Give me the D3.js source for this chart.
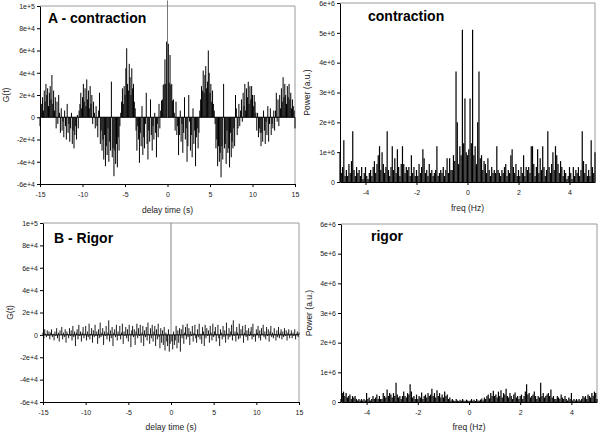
<!DOCTYPE html>
<html>
<head>
<meta charset="utf-8">
<script src="https://cdn.jsdelivr.net/npm/d3@7"></script>
<style>
  body { margin: 0; background: #fff; }
  text { font-family: Arial, "Liberation Sans", sans-serif; }
</style>
</head>
<body>
<div id="chart"></div>
<script>
// sampling grids
const lagStart = -15, lagStep = 0.1;     // seconds
const freqStart = -5, freqStep = 0.05;   // Hz

// A - contraction, G(t) in units of 1e3, t = -15 .. 15
const gContraction = [
  -8,4,12,18,6,24,14,30,20,26,10,22,28,16,38,12,24,6,18,-10,14,-6,20,4,-14,
  8,-12,-4,-18,6,-8,-20,12,-14,-6,-22,-10,4,-24,-12,-28,-16,-8,-20,2,-10,
  6,12,22,8,18,30,14,26,10,34,16,24,8,28,12,20,-6,14,4,-10,10,
  -8,-18,6,22,-24,-12,-30,-20,-38,-16,-44,-26,-34,-10,-40,-22,-30,32,-36,-28,-53,-30,-42,-24,-45,-18,-30,-8,
  4,14,26,12,28,20,44,62,30,24,48,36,20,44,26,30,14,8,
  -12,-30,-8,-20,-41,-14,-26,10,-34,-18,-28,-6,22,-24,-38,-12,-22,16,-16,-30,-8,-20,4,-14,-36,-6,-18,12,-10,6,
  15,16,29,30,52,30,68,
  105,
  66,31,56,29,30,15,16,
  4,-12,14,-16,-8,-34,-16,6,-22,-6,-32,-14,18,-20,-10,-40,-26,20,-4,-30,-16,-36,8,-24,-12,-44,-18,-10,-28,-14,
  6,16,28,24,42,22,38,46,26,32,60,40,22,30,14,24,12,6,
  -6,-28,-20,-44,-26,-40,-32,-54,-26,-38,30,-28,-24,-42,-12,-32,-28,-45,-14,-36,-22,-28,-10,-26,20,8,-16,-10,
  12,-8,6,16,-4,22,10,30,6,26,18,32,12,28,16,28,20,10,20,14,4,
  -12,4,-18,-10,-14,-26,-14,-22,6,-12,-24,-4,-16,10,-22,-6,8,-16,-6,-10,6,
  -12,6,22,-4,16,-8,20,8,26,14,36,18,30,20,12,28,18,30,16,22,8,16,10,6,-10
];

// B - rigor, G(t) in units of 1e3, t = -15 .. 15
const gRigor = [
  2,-3,5,1,-2,4,-1,3,-4,2,
  5,-2,1,-5,3,-1,6,-3,2,-6,
  4,0,7,-4,2,-2,5,-7,3,1,
  -3,6,-1,4,-5,8,-2,3,-10,2,
  5,-4,9,-1,3,-6,2,7,-3,1,
  8,-5,3,-2,10,-4,1,6,-7,4,
  -2,9,-1,3,-8,5,-3,11,-2,2,
  6,-9,3,-1,8,-4,2,13,-6,4,
  -3,7,-10,2,5,-2,9,-5,3,-1,
  8,-4,2,10,-8,3,-1,7,-3,5,
  -6,9,1,-11,4,8,-2,5,-9,3,
  10,-3,6,-1,9,-7,2,8,-10,4,
  -2,7,-5,11,1,-8,6,-3,9,-6,
  3,8,-10,5,-4,10,-2,-12,6,-7,
  4,-9,7,-14,2,-6,-10,5,-15,-8,
  100,
  -6,-13,3,-9,-5,8,-12,4,-7,6,
  -15,5,-3,9,-8,2,7,-4,10,-2,
  6,-9,3,-1,8,-6,2,9,-3,-7,
  5,-2,10,-4,1,-8,7,3,-10,9,
  -3,6,-1,4,-7,8,2,-5,10,-2,
  3,7,-6,1,9,-3,-10,5,2,-4,
  8,-2,4,-7,11,1,-4,6,-2,3,
  9,-5,13,-1,3,-6,7,2,-4,10,
  -3,5,1,8,-7,2,9,-2,4,-5,
  6,-1,3,7,-4,10,-2,1,-6,5,
  2,8,-3,4,-5,6,1,9,-2,3,
  -4,7,-1,5,-6,3,8,-2,2,-3,
  6,1,-5,4,-2,7,-3,2,5,-4,
  3,-2,6,-1,4,-5,2,5,-3,1,
  4,-3,2,-1,5,-4,1,3,-2,2
];

// contraction power spectrum, units of 1e5, f = -5 .. 5
const pContraction = [
  10,3,5,14,2,4,2,6,3,7,
  17,4,2,5,3,4,2,5,1,3,
  5,2,1,3,4,2,5,7,3,6,
  9,12,4,10,6,3,5,17,4,2,
  5,12,4,8,3,11,5,2,6,12,
  6,3,5,4,5,2,9,3,5,2,
  4,2,6,3,5,11,8,3,4,2,
  6,3,4,2,3,4,12,2,3,4,
  3,5,2,4,8,3,8,4,4,9,
  7,37,20,6,12,9,51,13,28,10,
  9,
  11,28,13,51,9,12,6,20,37,8,
  9,4,7,6,3,8,4,2,5,3,
  4,3,12,4,3,2,4,3,5,6,
  2,4,3,9,11,5,3,6,2,4,
  2,5,3,9,2,5,4,5,3,12,
  12,6,2,5,11,3,8,4,12,5,
  2,4,17,5,3,6,10,4,12,9,
  6,3,7,5,2,4,3,1,2,5,
  3,1,5,2,4,3,5,2,4,17,
  7,3,6,2,4,2,14,5,3,10
];

// rigor power spectrum, units of 1e5, f = -5 .. 5
const pRigor = [
  1,3,3.5,2,3,1.5,2,2.5,1,2,
  1.5,2,1,0.5,1,0.5,1,0.5,1,0.5,
  3,1,1.5,0.5,1,2,1,1.5,2.5,1,
  2,1,1,3,2,1.5,4.2,2,3,2.5,
  1.5,3,2,6.5,2.5,1.5,2,1,2,3.5,
  2,1.5,3,2.5,6,3.5,1.5,2,1,2.5,
  1,2,1.5,3.2,1,2,2.5,1.5,3,2,
  2.5,4.5,2,3,1.5,4,2,3,1.5,2.5,
  1.5,3.5,2,2.5,1,1.5,0.5,1,0.5,0.3,
  1,0.5,0.3,0.8,0.4,1,0.5,0.3,0.8,0.5,
  0.3,
  0.5,1,0.4,0.8,0.3,1,0.5,0.4,0.8,1.2,
  0.5,1.5,1,2,2.5,1.2,3,2,3.8,2,
  2.5,1.5,3.5,2,4,1.5,3,2.5,4.5,2,
  1.5,3,2,1,2.5,3.2,1.5,2,1,2,
  2.5,1,2,3.5,6,2.5,3,1.5,2,2.5,
  3.5,2,1,2,1.5,6.5,2,3,1.5,2,
  2.5,3,2,4.2,1.5,2,1,1,2,1.5,
  1,2.5,1.5,1,2,1,0.5,1.5,1,3,
  0.5,1,0.5,1,0.5,1,0.5,1,2,1.5,
  2,1,2.5,2,1.5,3,2,3.5,3,1
];

const lagTicks = [-15, -10, -5, 0, 5, 10, 15];
const freqTicks = [-4, -2, 0, 2, 4];
const gTicks = [-60000, -40000, -20000, 0, 20000, 40000, 60000, 80000, 100000];
const powerTicks = [0, 1e6, 2e6, 3e6, 4e6, 5e6, 6e6];

const svg = d3.select("#chart").append("svg")
    .attr("width", 600)
    .attr("height", 432);

// 20000 -> "2e+4"
const sci = v => {
    if (v === 0) return "0";
    const e = Math.floor(Math.log10(Math.abs(v)) + 1e-9);
    return (v / Math.pow(10, e)) + "e+" + e;
};

function drawPanel(cfg) {
    const x = d3.scaleLinear().domain(cfg.xDomain).range([cfg.left, cfg.right]);
    const y = d3.scaleLinear().domain(cfg.yDomain).range([cfg.bottom, cfg.top]);
    const g = svg.append("g");

    // light frame on top and right
    g.append("path")
        .attr("d", `M${cfg.left},${cfg.top}H${cfg.right}V${cfg.bottom}`)
        .attr("fill", "none")
        .attr("stroke", "#9a9a9a")
        .attr("stroke-width", 1);

    if (cfg.zeroLine) {
        g.append("line")
            .attr("x1", cfg.left).attr("x2", cfg.right)
            .attr("y1", y(0)).attr("y2", y(0))
            .attr("stroke", "#000")
            .attr("stroke-width", 1);
    }

    // vertical sticks from zero
    g.append("g").selectAll("line")
        .data(cfg.values)
        .join("line")
        .attr("x1", (d, i) => x(cfg.start + i * cfg.step))
        .attr("x2", (d, i) => x(cfg.start + i * cfg.step))
        .attr("y1", y(0))
        .attr("y2", d => y(d * cfg.unit))
        .attr("stroke", (d, i) => Math.abs(cfg.start + i * cfg.step) < 1e-9 && cfg.zeroGray ? "#777" : "#000")
        .attr("stroke-width", cfg.stickWidth);

    const xAxis = g.append("g")
        .attr("transform", `translate(0,${cfg.bottom})`)
        .call(d3.axisBottom(x).tickValues(cfg.xTicks).tickSize(3).tickSizeOuter(0)
            .tickPadding(5).tickFormat(d => String(d)));
    const yAxis = g.append("g")
        .attr("transform", `translate(${cfg.left},0)`)
        .call(d3.axisLeft(y).tickValues(cfg.yTicks).tickSize(3).tickSizeOuter(0)
            .tickPadding(2).tickFormat(sci));

    [xAxis, yAxis].forEach(a => {
        a.selectAll("text").attr("font-size", 7).attr("fill", "#222")
            .attr("font-family", "Arial, 'Liberation Sans', sans-serif");
        a.select(".domain").attr("stroke", "#000");
        a.selectAll(".tick line").attr("stroke", "#000");
    });

    g.append("text")
        .attr("x", (cfg.left + cfg.right) / 2)
        .attr("y", cfg.xLabelY)
        .attr("text-anchor", "middle")
        .attr("font-size", 8.5)
        .attr("fill", "#222")
        .text(cfg.xLabel);

    g.append("text")
        .attr("transform", `translate(${cfg.yLabelX},${(cfg.top + cfg.bottom) / 2}) rotate(-90)`)
        .attr("text-anchor", "middle")
        .attr("font-size", 8.5)
        .attr("fill", "#222")
        .text(cfg.yLabel);

    g.append("text")
        .attr("x", cfg.titleX)
        .attr("y", cfg.titleY)
        .attr("font-size", 14)
        .attr("font-weight", "bold")
        .attr("fill", "#000")
        .text(cfg.title);
}

drawPanel({
    values: gContraction, start: lagStart, step: lagStep, unit: 1000,
    xDomain: [-15, 15], yDomain: [-60000, 100000], xTicks: lagTicks, yTicks: gTicks,
    left: 40, right: 295, top: 6, bottom: 184,
    zeroLine: true, zeroGray: true, stickWidth: 1,
    title: "A - contraction", titleX: 48, titleY: 23,
    xLabel: "delay time (s)", xLabelY: 213, yLabel: "G(t)", yLabelX: 9
});

drawPanel({
    values: pContraction, start: freqStart, step: freqStep, unit: 1e5,
    xDomain: [-5, 5], yDomain: [0, 6e6], xTicks: freqTicks, yTicks: powerTicks,
    left: 340, right: 595, top: 3, bottom: 182,
    zeroLine: false, zeroGray: false, stickWidth: 1.2,
    title: "contraction", titleX: 368, titleY: 21,
    xLabel: "freq (Hz)", xLabelY: 211, yLabel: "Power (a.u.)", yLabelX: 310
});

drawPanel({
    values: gRigor, start: lagStart, step: lagStep, unit: 1000,
    xDomain: [-15, 15], yDomain: [-60000, 100000], xTicks: lagTicks, yTicks: gTicks,
    left: 43, right: 299, top: 223, bottom: 402,
    zeroLine: true, zeroGray: true, stickWidth: 0.9,
    title: "B - Rigor", titleX: 54, titleY: 243,
    xLabel: "delay time (s)", xLabelY: 430, yLabel: "G(t)", yLabelX: 13
});

drawPanel({
    values: pRigor, start: freqStart, step: freqStep, unit: 1e5,
    xDomain: [-5, 5], yDomain: [0, 6e6], xTicks: freqTicks, yTicks: powerTicks,
    left: 341, right: 597, top: 224, bottom: 402,
    zeroLine: false, zeroGray: false, stickWidth: 1.2,
    title: "rigor", titleX: 371, titleY: 241,
    xLabel: "freq (Hz)", xLabelY: 430, yLabel: "Power (a.u.)", yLabelX: 312
});
</script>
</body>
</html>
